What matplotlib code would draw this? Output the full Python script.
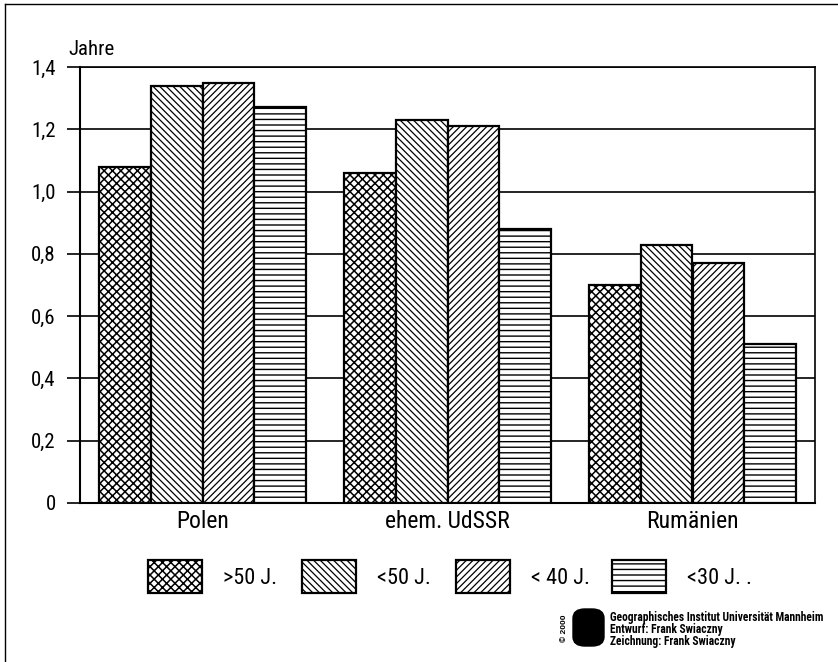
import matplotlib
matplotlib.use('Agg')
import matplotlib.pyplot as plt
import numpy as np
from matplotlib.patches import Rectangle, FancyBboxPatch
from matplotlib.lines import Line2D

# data
laender = ['Polen', 'ehem. UdSSR', 'Rumänien']
gruppen = ['>50 J.', '<50 J.', '< 40 J.', '<30 J. .']
werte_50plus = [1.08, 1.06, 0.70]
werte_unter50 = [1.34, 1.23, 0.83]
werte_unter40 = [1.35, 1.21, 0.77]
werte_unter30 = [1.27, 0.88, 0.51]
yticks = [0, 0.2, 0.4, 0.6, 0.8, 1.0, 1.2, 1.4]
ytick_labels = ['0', '0,2', '0,4', '0,6', '0,8', '1,0', '1,2', '1,4']

plt.rcParams['font.family'] = ['Roboto Condensed', 'DejaVu Sans']
plt.rcParams['hatch.color'] = 'black'

W, H = 838, 662
fig = plt.figure(figsize=(W / 100, H / 100), dpi=100)
ax = fig.add_axes([80 / W, 1 - 503 / H, 735 / W, 436 / H])

serien = [werte_50plus, werte_unter50, werte_unter40, werte_unter30]
hatches = ['xxxx', '\\\\\\\\\\', '/////', '---']
hatch_lw = [1.1, 0.9, 0.9, 1.0]
x = np.arange(len(laender))
w = 0.212
for i, (vals, h) in enumerate(zip(serien, hatches)):
    with plt.rc_context({'hatch.linewidth': hatch_lw[i]}):
        ax.bar(x + (i - 1.5) * w, vals, w, facecolor='white', edgecolor='black',
               linewidth=1.6, hatch=h, zorder=3)

ax.set_xlim(-0.5, 2.5)
ax.set_ylim(0, 1.4)
ax.set_yticks(yticks)
ax.set_yticklabels(ytick_labels, fontsize=15)
ax.set_xticks(x)
ax.set_xticklabels(laender, fontsize=17)
ax.tick_params(axis='x', length=0, pad=5)
ax.tick_params(axis='y', direction='out', length=9.5, width=1.2, pad=8)
ax.yaxis.grid(True, color='black', linewidth=1.2)
ax.set_axisbelow(True)
for s in ['left', 'bottom']:
    ax.spines[s].set_linewidth(1.5)
ax.spines['right'].set_linewidth(1.2)
ax.spines['top'].set_linewidth(1.2)

fig.text(68 / W, 1 - 55 / H, 'Jahre', fontsize=15, va='baseline', ha='left')

# legend drawn by hand
leg_x = [148, 302, 456, 612]
for i, (lx, h, lab) in enumerate(zip(leg_x, hatches, gruppen)):
    with plt.rc_context({'hatch.linewidth': hatch_lw[i]}):
        r = Rectangle((lx / W, 1 - 593 / H), 54 / W, 33 / H, transform=fig.transFigure,
                      facecolor='white', edgecolor='black', linewidth=1.6, hatch=h)
    fig.add_artist(r)
    fig.text((lx + 75) / W, 1 - 578 / H, lab, fontsize=16, va='center', ha='left')

# credits
logo = FancyBboxPatch((573 / W, 1 - 646 / H), 31 / W, 37 / H, transform=fig.transFigure,
                      boxstyle='round,pad=0,rounding_size=0.014', facecolor='black',
                      edgecolor='black')
fig.add_artist(logo)
fig.text(564 / W, 1 - 628 / H, '© 2000', fontsize=6, rotation=90, ha='center', va='center',
         fontweight='bold', family=['Liberation Sans', 'DejaVu Sans'])
credits = ['Geographisches Institut Universität Mannheim', 'Entwurf: Frank Swiaczny',
           'Zeichnung: Frank Swiaczny']
for k, t in enumerate(credits):
    fig.text(610 / W, 1 - (617 + 12 * k) / H, t, fontsize=8.3, va='center', ha='left',
             fontweight='bold', family=['Roboto Condensed', 'DejaVu Sans'])

# frame of the page
fig.add_artist(Line2D([5 / W, 5 / W], [0, 1 - 4 / H], transform=fig.transFigure,
                      color='black', linewidth=1))
fig.add_artist(Line2D([5 / W, 1], [1 - 4 / H, 1 - 4 / H], transform=fig.transFigure,
                      color='black', linewidth=1))

fig.savefig('out.png', dpi=100)
